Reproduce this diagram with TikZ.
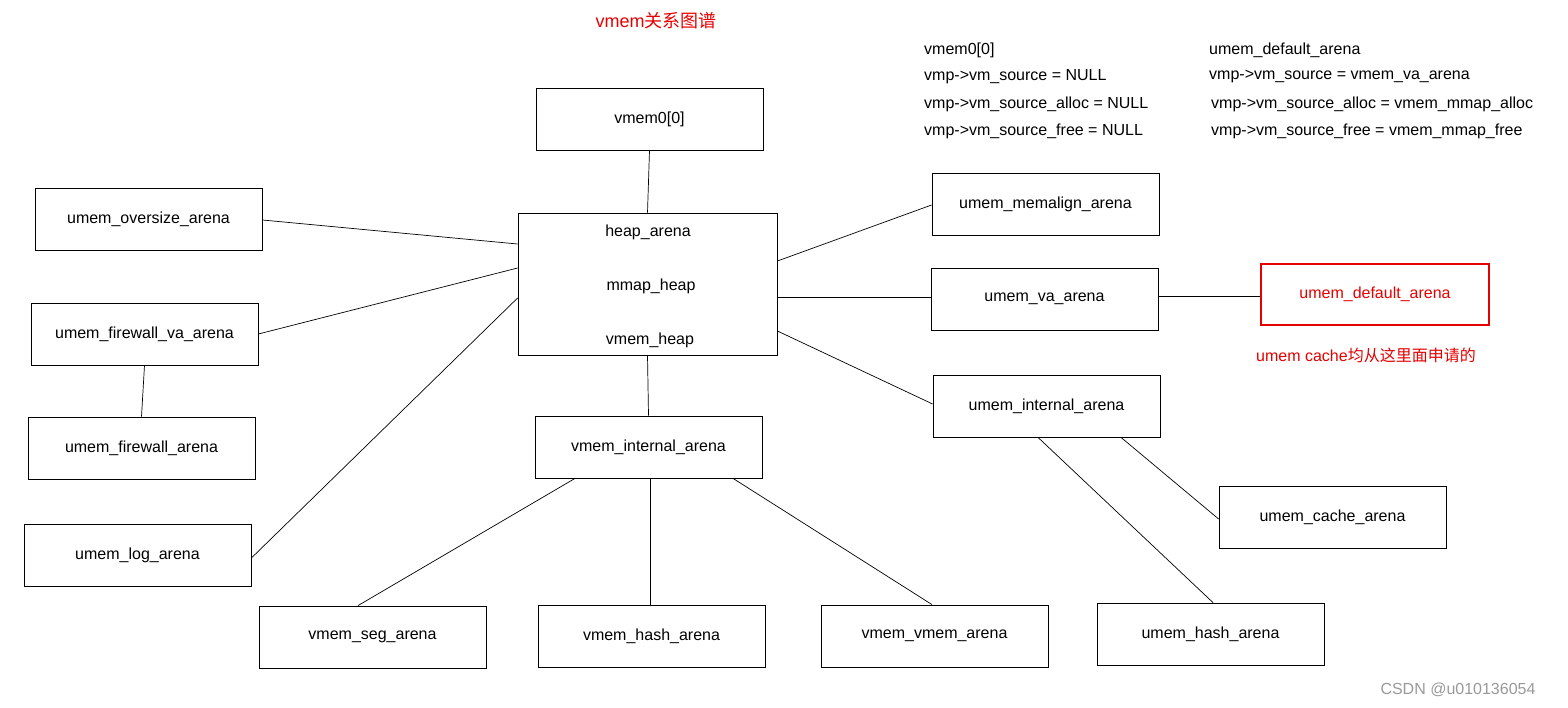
\documentclass[tikz,border=0pt]{standalone}
\usepackage{fontspec}
\setmainfont{Liberation Sans}
\newfontfamily\cjk{Noto Sans CJK SC}
\begin{document}
\begin{tikzpicture}[x=1pt,y=-1pt,
  box/.style={draw,line width=0.8pt,minimum width=227pt,minimum height=62pt,inner sep=0pt,font=\fontsize{16}{19}\selectfont},
  ln/.style={line width=0.7pt},
  info/.style={anchor=west,inner sep=0pt,font=\fontsize{16}{19}\selectfont},
  red/.style={text=red!90!black}]
\useasboundingbox (0,0) rectangle (1568,708);
\node[box] (vmem0) at (649.5,119) {vmem0[0]};
\node[box,minimum width=259pt,minimum height=142pt] (heap) at (647.5,284) {};
\node[inner sep=0pt,font=\fontsize{16}{19}\selectfont] (ha) at (648,232) {heap\_arena};
\node[inner sep=0pt,font=\fontsize{16}{19}\selectfont] (mh) at (651,286) {mmap\_heap};
\node[inner sep=0pt,font=\fontsize{16}{19}\selectfont] (vh) at (650,340) {vmem\_heap};
\node[box] (oversize) at (148.5,219) {umem\_oversize\_arena};
\node[box] (fwva) at (144.5,334) {umem\_firewall\_va\_arena};
\node[box] (fw) at (141.5,448) {umem\_firewall\_arena};
\node[box] (log) at (137.5,555) {umem\_log\_arena};
\node[box] (vint) at (648.5,447) {vmem\_internal\_arena};
\node[box] (seg) at (372.5,637) {vmem\_seg\_arena};
\node[box] (vhash) at (651.5,636) {vmem\_hash\_arena};
\node[box] (vvmem) at (934.5,636) {vmem\_vmem\_arena};
\node[box] (uhash) at (1210.5,634) {umem\_hash\_arena};
\node[box] (cache) at (1332.5,517) {umem\_cache\_arena};
\node[box] (uint) at (1046.5,406) {umem\_internal\_arena};
\node[box] (va) at (1044.5,299) {umem\_va\_arena};
\node[box] (memalign) at (1045.5,204) {umem\_memalign\_arena};
\node[box,draw=red!90!black,line width=2.5pt,minimum width=228pt,minimum height=61pt,red] (def) at (1375,294.5) {umem\_default\_arena};
\draw[ln] (vmem0.south) -- (heap.north);
\draw[ln] (oversize.east |- 0,220) -- (heap.west |- 0,244);
\draw[ln] (fwva.east |- 0,334) -- (heap.west |- 0,268);
\draw[ln] (fwva.south) -- (fw.north);
\draw[ln] (log.east |- 0,558) -- (heap.west |- 0,298);
\draw[ln] (heap.south) -- (vint.north);
\draw[ln] (memalign.west |- 0,205) -- (heap.east |- 0,261);
\draw[ln] (heap.east |- 0,297) -- (va.west |- 0,297);
\draw[ln] (heap.east |- 0,331) -- (uint.west |- 0,404);
\draw[ln] (va.east |- 0,296) -- (def.west |- 0,296);
\draw[ln] (vint.south -| 575,0) -- (seg.north -| 358,0);
\draw[ln] (vint.south -| 650,0) -- (vhash.north -| 650,0);
\draw[ln] (vint.south -| 733,0) -- (vvmem.north -| 932,0);
\draw[ln] (uint.south -| 1121,0) -- (cache.west |- 0,519);
\draw[ln] (uint.south -| 1038,0) -- (uhash.north -| 1213,0);
\node[red,font=\fontsize{18}{21}\selectfont] (title) at (656,21) {vmem{\cjk 关系图谱}};
\node[info] (i1) at (924,50) {vmem0[0]};
\node[info] (i2) at (924,77) {vmp->vm\_source = NULL};
\node[info] (i3) at (924,104) {vmp->vm\_source\_alloc = NULL};
\node[info] (i4) at (924,131) {vmp->vm\_source\_free = NULL};
\node[info] (j1) at (1209,50) {umem\_default\_arena};
\node[info] (j2) at (1209,77) {vmp->vm\_source = vmem\_va\_arena};
\node[info] (j3) at (1211,104) {vmp->vm\_source\_alloc = vmem\_mmap\_alloc};
\node[info] (j4) at (1211,131) {vmp->vm\_source\_free = vmem\_mmap\_free};
\node[red,inner sep=0pt,font=\fontsize{16}{19}\selectfont] (note) at (1366,355) {umem cache{\cjk 均从这里面申请的}};
\node[text=gray!80,inner sep=0pt,font=\fontsize{16}{19}\selectfont] (wm) at (1458,690) {CSDN @u010136054};
\end{tikzpicture}
\end{document}
